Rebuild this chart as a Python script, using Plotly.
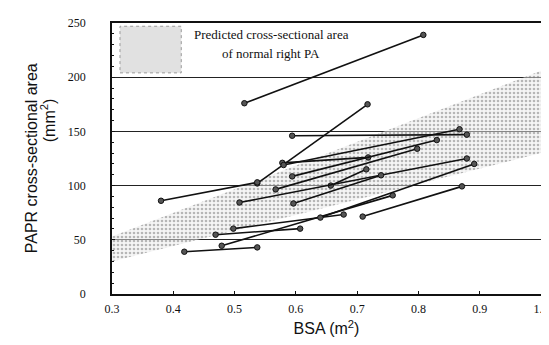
import plotly.graph_objects as go

# Paired measurements (pre -> post) for each subject
pre_bsa   = [0.516, 0.537, 0.594, 0.380, 0.578, 0.580, 0.594, 0.567, 0.657, 0.508, 0.596, 0.498, 0.479, 0.469, 0.640, 0.418, 0.709]
post_bsa  = [0.808, 0.717, 0.879, 0.537, 0.718, 0.867, 0.830, 0.798, 0.715, 0.879, 0.739, 0.678, 0.758, 0.607, 0.891, 0.537, 0.871]
pre_area  = [176, 102, 146, 86, 121, 119, 108.5, 96.5, 100, 84.4, 83.5, 60.3, 44.5, 54.7, 70.5, 39, 71.4]
post_area = [239, 175, 147, 103, 126, 152, 142, 134, 115, 125, 109.5, 73.3, 91, 60.3, 120, 43, 99.3]

# Predicted normal right PA area band
band_bsa  = [0.3, 1.0]
band_low  = [30, 130]
band_high = [53, 206]

x_ticks = [0.3, 0.4, 0.5, 0.6, 0.7, 0.8, 0.9, 1.0]
x_labels = ["0.3", "0.4", "0.5", "0.6", "0.7", "0.8", "0.9", "1.0"]
y_ticks = [0, 50, 100, 150, 200, 250]
y_labels = ["0", "50", "100", "150", "200", "250"]

SERIF = "Liberation Serif"
SANS = "Liberation Sans"

fig = go.Figure()

fig.add_trace(go.Scatter(
    x=band_bsa + band_bsa[::-1],
    y=band_low + band_high[::-1],
    fill="toself", mode="lines", line=dict(width=0),
    fillcolor="rgba(225,225,225,0.6)",
    fillpattern=dict(shape=".", fgcolor="#777777", bgcolor="rgba(235,235,235,0.5)", size=4, solidity=0.35),
    hoverinfo="skip", showlegend=False,
))

for xb0, xb1, ya0, ya1 in zip(pre_bsa, post_bsa, pre_area, post_area):
    fig.add_trace(go.Scatter(
        x=[xb0, xb1], y=[ya0, ya1], mode="lines+markers",
        line=dict(color="#111111", width=1.6),
        marker=dict(size=5.5, color="#555555", line=dict(color="#111111", width=1)),
        showlegend=False,
    ))

# legend swatch and text (decoration in the top box)
fig.add_shape(type="rect", xref="x", yref="y", x0=0.313, x1=0.413, y0=204, y1=247,
              fillcolor="rgba(200,200,200,0.55)", line=dict(color="#999999", width=1, dash="dot"), layer="below")
fig.add_annotation(x=0.56, y=239, xref="x", yref="y", text="Predicted cross-sectional area",
                   showarrow=False, font=dict(family=SERIF, size=13, color="#111111"))
fig.add_annotation(x=0.56, y=222, xref="x", yref="y", text="of normal right PA",
                   showarrow=False, font=dict(family=SERIF, size=13, color="#111111"))

# y axis title, two lines
fig.add_annotation(x=-0.187, y=0.5, xref="paper", yref="paper", text="PAPR cross-sectional area",
                   textangle=-90, showarrow=False, xanchor="center", yanchor="middle",
                   font=dict(family=SANS, size=16, color="#111111"))
fig.add_annotation(x=-0.150, y=0.64, xref="paper", yref="paper", text="(mm<sup>2</sup>)",
                   textangle=-90, showarrow=False, xanchor="center", yanchor="middle",
                   font=dict(family=SANS, size=16, color="#111111"))

fig.update_layout(
    width=549, height=345,
    margin=dict(l=104, r=8, t=15, b=59),
    paper_bgcolor="white", plot_bgcolor="white",
    xaxis=dict(
        range=[0.3, 1.0], tickvals=x_ticks, ticktext=x_labels,
        showgrid=False, zeroline=False,
        showline=True, linecolor="#111111", linewidth=1.5, mirror=True,
        ticks="inside", ticklen=3, tickcolor="#111111",
        tickfont=dict(family=SERIF, size=12, color="#111111"),
        ticklabelstandoff=3,
        title=dict(text="BSA (m<sup>2</sup>)", font=dict(family=SANS, size=16, color="#111111"), standoff=8),
    ),
    yaxis=dict(
        range=[0, 250], tickvals=y_ticks, ticktext=y_labels,
        showgrid=True, gridcolor="#222222", gridwidth=1.3, zeroline=False,
        showline=True, linecolor="#111111", linewidth=1.5, mirror=True,
        ticks="inside", ticklen=3, tickcolor="#111111",
        minor=dict(dtick=10, ticks="inside", ticklen=2, tickcolor="#111111", showgrid=False),
        tickfont=dict(family=SERIF, size=12, color="#111111"),
        ticklabelstandoff=22,
    ),
)

fig.write_html("out.html")
